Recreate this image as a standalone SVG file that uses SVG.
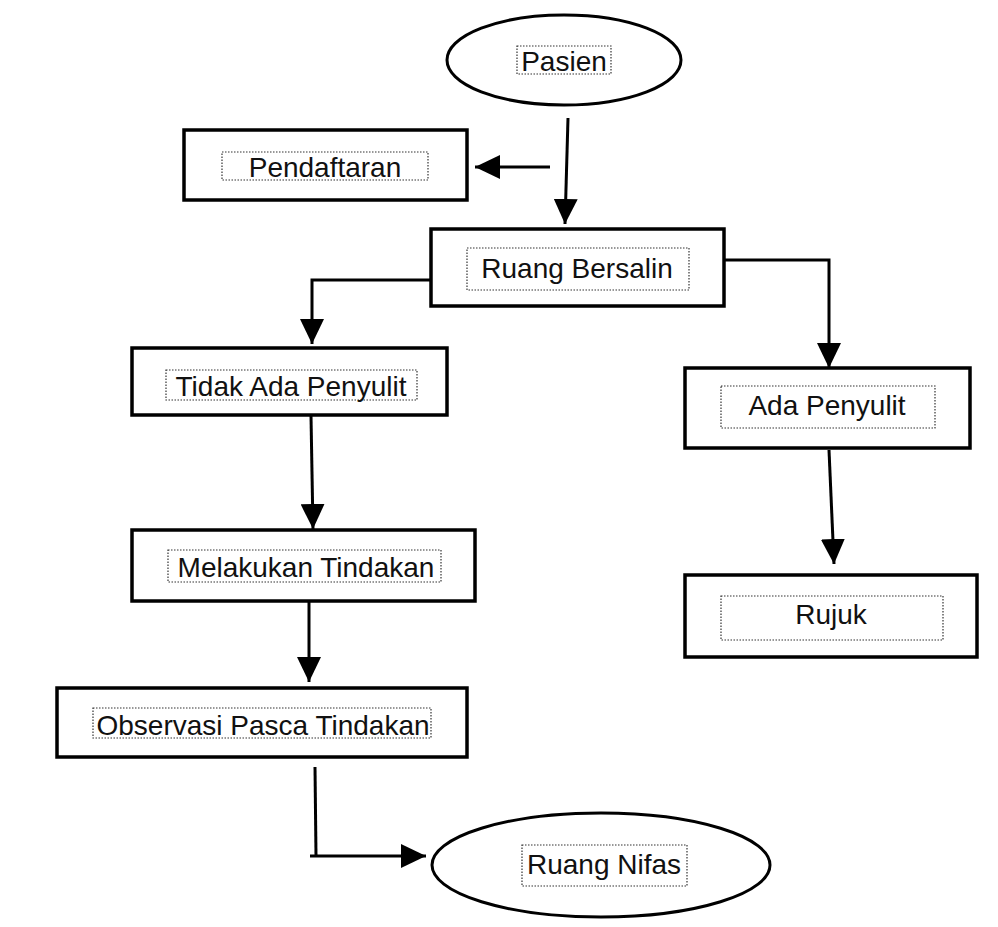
<svg xmlns="http://www.w3.org/2000/svg" width="998" height="927" viewBox="0 0 998 927">
<defs>
<style>
.box{fill:#fff;stroke:#000;stroke-width:3.5}
.ell{fill:#fff;stroke:#000;stroke-width:3}
.tb{fill:none;stroke:#333;stroke-width:1.2;stroke-dasharray:1.5 1.5}
.t{font-family:"Liberation Sans",Arial,sans-serif;font-size:28px;fill:#111;text-anchor:middle}
.c{fill:none;stroke:#000;stroke-width:3}
</style>
<marker id="ah" markerUnits="userSpaceOnUse" markerWidth="26" markerHeight="24" refX="25" refY="12" orient="auto">
<path d="M0,0 L25,12 L0,24 Z" fill="#000"/>
</marker>
</defs>
<rect width="998" height="927" fill="#fff"/>
<g id="connectors">
<line class="c" x1="550" y1="167" x2="475" y2="167" marker-end="url(#ah)"/>
<line class="c" x1="568" y1="118" x2="565" y2="224" marker-end="url(#ah)"/>
<polyline class="c" points="431,280 312,280 312,344" marker-end="url(#ah)"/>
<polyline class="c" points="716,260 829,260 829,368" marker-end="url(#ah)"/>
<line class="c" x1="311" y1="416" x2="313" y2="529" marker-end="url(#ah)"/>
<line class="c" x1="309" y1="602" x2="309" y2="682" marker-end="url(#ah)"/>
<line class="c" x1="829" y1="450" x2="834" y2="564" marker-end="url(#ah)"/>
<polyline class="c" points="315,767 316,856"/>
<line class="c" x1="310" y1="856" x2="426" y2="856" marker-end="url(#ah)"/>
</g>
<g id="pasien">
<ellipse class="ell" cx="564" cy="60" rx="117" ry="45"/>
<rect class="tb" x="517" y="46" width="94" height="28"/>
<text class="t" x="564" y="71">Pasien</text>
</g>
<g id="pendaftaran">
<rect class="box" x="184" y="130" width="283" height="70"/>
<rect class="tb" x="222" y="152" width="206" height="28"/>
<text class="t" x="325" y="177">Pendaftaran</text>
</g>
<g id="ruang-bersalin">
<rect class="box" x="431" y="229" width="293" height="77"/>
<rect class="tb" x="467" y="248" width="222" height="42"/>
<text class="t" x="577" y="278">Ruang Bersalin</text>
</g>
<g id="tidak-ada-penyulit">
<rect class="box" x="132" y="348" width="315" height="67"/>
<rect class="tb" x="166" y="370" width="251" height="30"/>
<text class="t" x="291" y="396">Tidak Ada Penyulit</text>
</g>
<g id="ada-penyulit">
<rect class="box" x="685" y="368" width="285" height="80"/>
<rect class="tb" x="721" y="386" width="214" height="42"/>
<text class="t" x="827" y="415">Ada Penyulit</text>
</g>
<g id="melakukan-tindakan">
<rect class="box" x="132" y="530" width="343" height="71"/>
<rect class="tb" x="168" y="550" width="273" height="32"/>
<text class="t" x="306" y="577">Melakukan Tindakan</text>
</g>
<g id="rujuk">
<rect class="box" x="685" y="575" width="292" height="82"/>
<rect class="tb" x="721" y="596" width="222" height="44"/>
<text class="t" x="831" y="624">Rujuk</text>
</g>
<g id="observasi">
<rect class="box" x="57" y="688" width="410" height="69"/>
<rect class="tb" x="93" y="708" width="338" height="30"/>
<text class="t" x="263" y="735">Observasi Pasca Tindakan</text>
</g>
<g id="ruang-nifas">
<ellipse class="ell" cx="601" cy="865" rx="169" ry="52"/>
<rect class="tb" x="522" y="845" width="165" height="41"/>
<text class="t" x="604" y="874">Ruang Nifas</text>
</g>
</svg>
